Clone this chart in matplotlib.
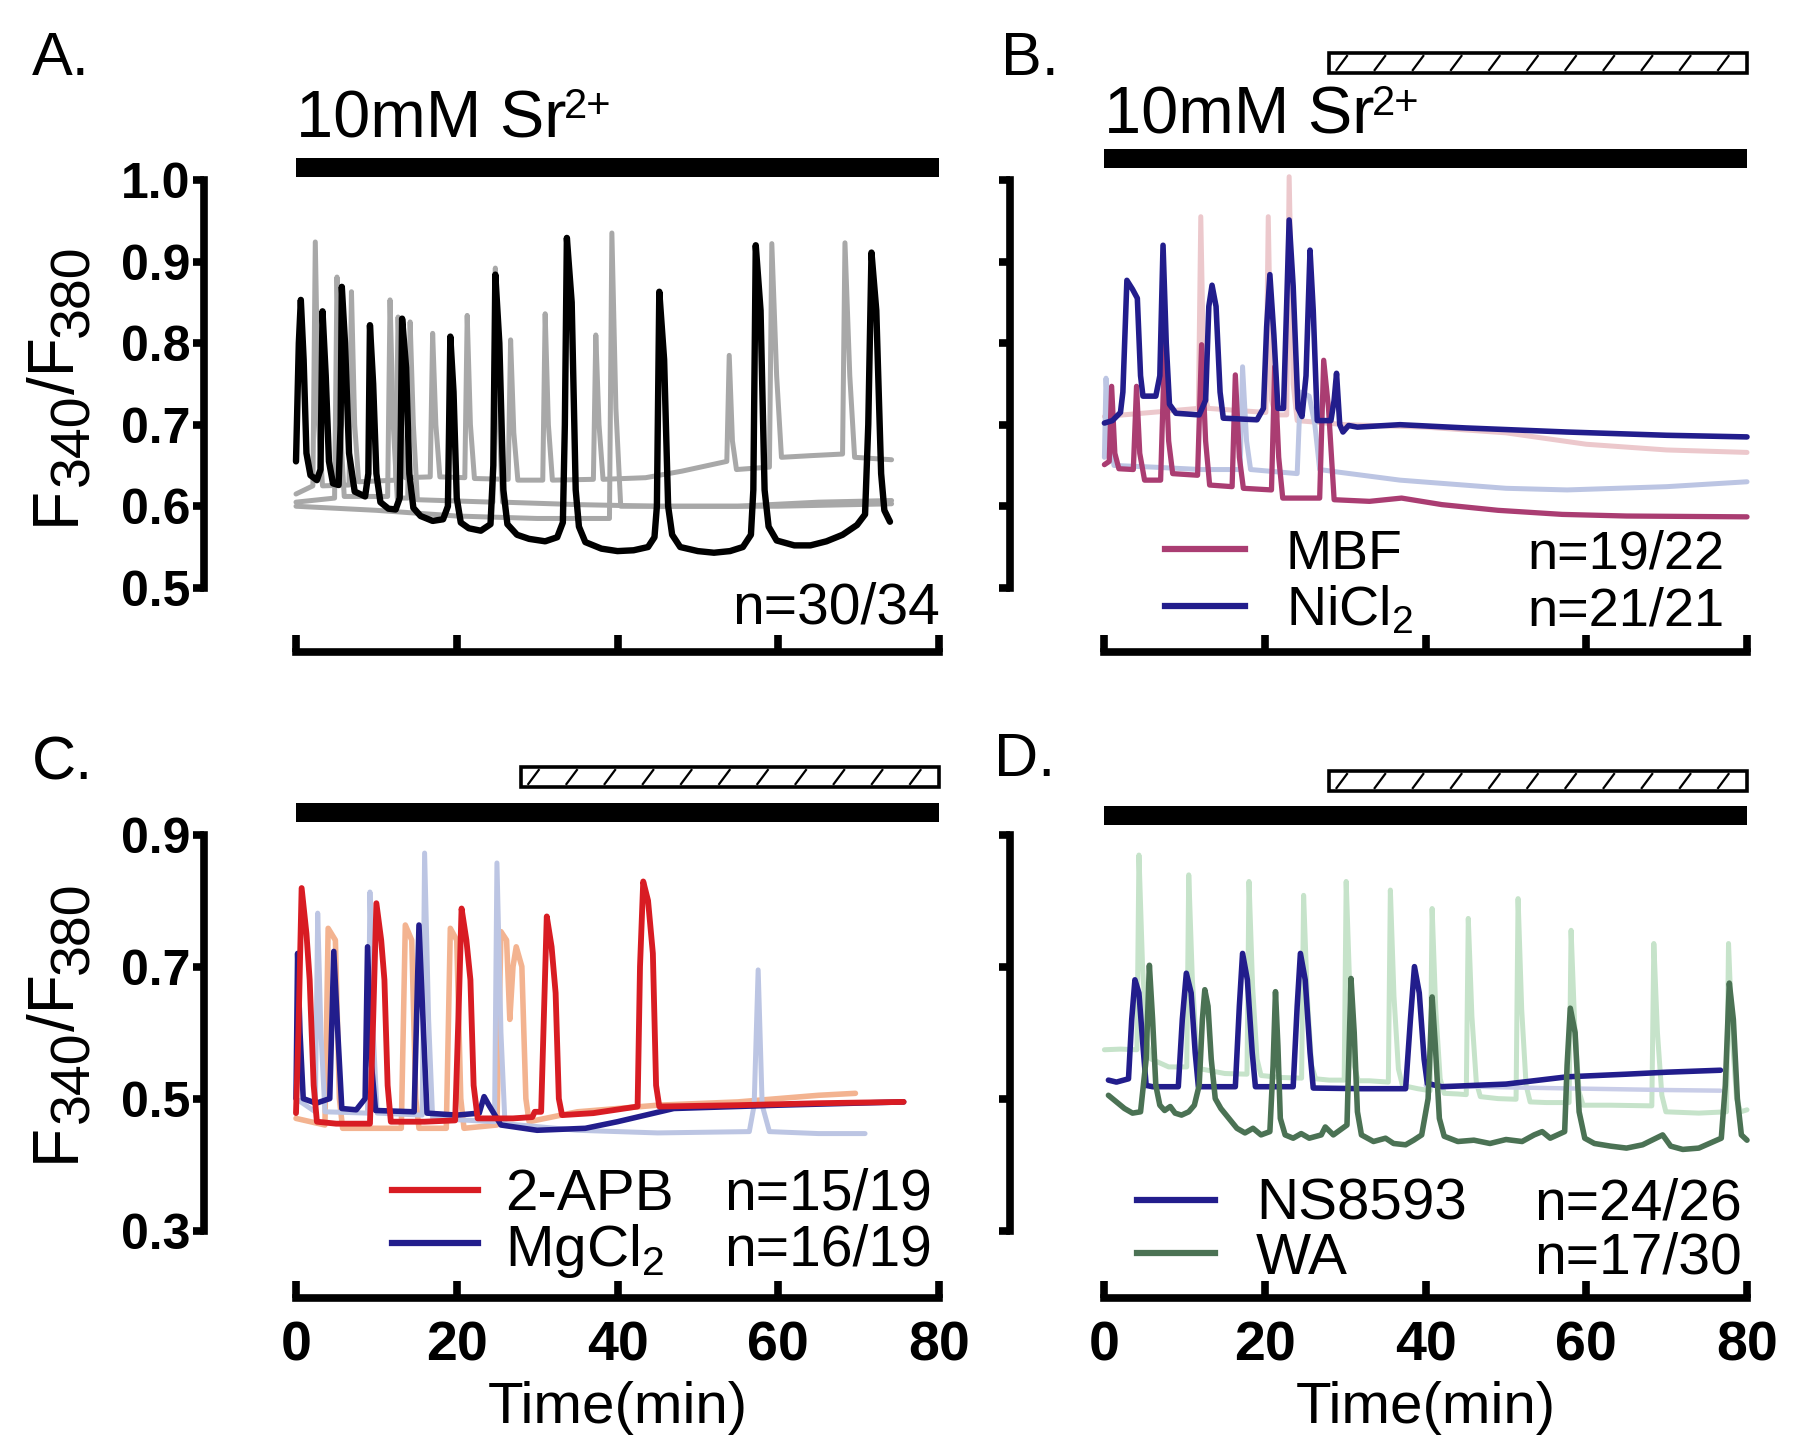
import matplotlib
matplotlib.use("Agg")
import matplotlib.pyplot as plt
from matplotlib.patches import Rectangle
from matplotlib.lines import Line2D
from matplotlib.transforms import blended_transform_factory

plt.rcParams['font.family'] = ['Liberation Sans', 'DejaVu Sans']
plt.rcParams['mathtext.fontset'] = 'custom'
plt.rcParams['mathtext.rm'] = 'Liberation Sans'
plt.rcParams['mathtext.it'] = 'Liberation Sans'
plt.rcParams['mathtext.bf'] = 'Liberation Sans:bold'

# ---------------- data (time in min, F340/F380 ratio) ----------------
A_black = [(0.0,0.655),(0.35,0.80),(0.6,0.853),(0.95,0.78),(1.3,0.665),(1.8,0.638),(2.6,0.632),
           (3.05,0.645),(3.3,0.839),(3.7,0.76),(4.1,0.655),(4.6,0.628),(5.3,0.626),(5.55,0.70),
           (5.7,0.869),(6.1,0.80),(6.6,0.665),(7.3,0.618),(8.6,0.612),(9.0,0.64),(9.2,0.822),
           (9.6,0.75),(10.0,0.64),(10.5,0.605),(11.5,0.597),(12.4,0.596),(12.9,0.61),(13.05,0.70),
           (13.2,0.830),(13.7,0.77),(14.1,0.64),(14.6,0.598),(15.5,0.588),(17.0,0.582),(18.3,0.584),
           (18.9,0.60),(19.05,0.70),(19.2,0.808),(19.6,0.74),(20.0,0.61),(20.5,0.580),(21.5,0.573),
           (23.0,0.570),(24.2,0.578),(24.55,0.65),(24.8,0.884),(25.3,0.80),(25.8,0.62),(26.3,0.578),
           (27.5,0.565),(29.0,0.560),(31.0,0.557),(32.5,0.562),(33.2,0.58),(33.45,0.70),(33.7,0.929),
           (34.3,0.85),(34.8,0.62),(35.2,0.575),(36.0,0.556),(38.0,0.548),(40.0,0.545),(42.0,0.546),
           (43.8,0.550),(44.6,0.562),(44.9,0.60),(45.2,0.863),(45.8,0.78),(46.3,0.60),(46.8,0.565),
           (47.8,0.550),(50.0,0.545),(52.0,0.543),(54.0,0.545),(55.6,0.550),(56.6,0.565),(56.9,0.62),
           (57.2,0.920),(57.8,0.84),(58.3,0.62),(58.8,0.575),(59.8,0.558),(62.0,0.552),(64.0,0.552),
           (66.0,0.557),(68.0,0.565),(69.8,0.577),(70.8,0.590),(71.2,0.70),(71.6,0.911),(72.2,0.84),
           (72.8,0.64),(73.2,0.595),(73.9,0.581)]
A_gray1 = [(0,0.615),(2.1,0.625),(2.4,0.924),(2.8,0.70),(3.3,0.625),(6.6,0.626),(6.9,0.863),(7.3,0.70),
           (7.8,0.630),(12.4,0.632),(12.7,0.832),(13.1,0.70),(13.6,0.635),(16.7,0.636),(17.0,0.812),
           (17.4,0.70),(17.9,0.636),(21.0,0.635),(21.3,0.834),(21.7,0.70),(22.2,0.634),(26.4,0.633),
           (26.7,0.804),(27.1,0.69),(27.6,0.632),(30.7,0.632),(31.0,0.836),(31.4,0.70),(31.9,0.632),
           (37.0,0.633),(37.3,0.810),(37.7,0.70),(38.2,0.633),(43.5,0.635),(48.0,0.643),(52.2,0.652),
           (53.6,0.655),(53.9,0.785),(54.3,0.68),(54.8,0.645),(58.9,0.648),(59.2,0.922),(59.8,0.76),
           (60.4,0.660),(64.0,0.662),(68.0,0.664),(68.3,0.923),(68.9,0.76),(69.5,0.660),(74.1,0.657)]
A_gray2 = [(0,0.605),(4.8,0.61),(5.1,0.881),(5.5,0.70),(6.0,0.612),(11.4,0.612),(11.7,0.853),(12.1,0.70),
           (12.6,0.610),(13.9,0.610),(14.2,0.826),(14.6,0.70),(15.1,0.608),(24.5,0.605),(24.8,0.892),
           (25.2,0.72),(25.7,0.605),(35,0.602),(45,0.600),(55,0.600),(65,0.605),(74.1,0.607)]
A_gray3 = [(0,0.600),(10,0.595),(20,0.588),(30,0.585),(39.0,0.585),(39.3,0.935),(39.8,0.72),(40.4,0.600),
           (50,0.600),(60,0.600),(74.1,0.603)]

B_nicl2 = [(0,0.702),(1.0,0.705),(2.0,0.715),(2.3,0.74),(2.8,0.877),(3.5,0.866),(4.1,0.855),(4.5,0.76),
           (4.8,0.735),(6.4,0.735),(6.9,0.76),(7.3,0.920),(7.7,0.80),(8.1,0.725),(8.9,0.714),(11.8,0.712),
           (12.6,0.73),(13.0,0.845),(13.4,0.871),(13.9,0.845),(14.4,0.74),(14.8,0.708),(19.0,0.706),
           (19.8,0.72),(20.2,0.82),(20.6,0.884),(21.1,0.81),(21.6,0.72),(22.3,0.72),(22.7,0.85),
           (23.0,0.951),(23.5,0.87),(24.1,0.72),(24.6,0.71),(25.1,0.76),(25.6,0.914),(26.0,0.84),
           (26.5,0.705),(28.2,0.705),(28.6,0.73),(28.9,0.763),(29.3,0.70),(29.7,0.691),(30.4,0.699),
           (31.5,0.697),(36.8,0.700),(45,0.696),(57.6,0.691),(70,0.687),(80,0.685)]
B_mbf = [(0,0.651),(0.6,0.655),(0.9,0.747),(1.3,0.665),(1.8,0.646),(3.6,0.645),(4.0,0.747),(4.4,0.665),
         (5.0,0.632),(7.0,0.632),(7.5,0.798),(8.0,0.68),(8.5,0.640),(11.6,0.638),(12.1,0.798),(12.6,0.68),
         (13.1,0.626),(15.9,0.624),(16.3,0.761),(16.8,0.66),(17.3,0.622),(20.8,0.620),(21.2,0.771),
         (21.7,0.66),(22.2,0.610),(26.8,0.610),(27.3,0.779),(27.9,0.72),(28.6,0.608),(33,0.606),
         (37,0.610),(42,0.602),(49,0.595),(57,0.590),(65,0.588),(80,0.587)]
B_ctrl_pink = [(0,0.710),(11.7,0.720),(12.0,0.955),(12.4,0.74),(12.9,0.720),(20.1,0.715),(20.4,0.955),
               (20.8,0.73),(21.3,0.712),(22.7,0.712),(23.0,1.004),(23.5,0.75),(24.0,0.705),(30,0.700),
               (40,0.697),(50,0.690),(60,0.676),(70,0.669),(80,0.666)]
B_ctrl_blue = [(0,0.660),(0.2,0.757),(0.6,0.68),(1.2,0.650),(6,0.648),(12,0.645),(16.9,0.645),(17.2,0.771),
               (17.7,0.68),(18.2,0.645),(24.0,0.640),(24.4,0.74),(25.5,0.735),(26.2,0.70),(26.8,0.645),
               (29,0.642),(36.8,0.632),(50,0.622),(57.6,0.620),(70,0.624),(80,0.630)]

C_2apb = [(0,0.478),(0.3,0.60),(0.7,0.819),(1.3,0.75),(1.7,0.68),(2.2,0.52),(2.6,0.465),(5,0.462),
          (9.2,0.462),(9.6,0.62),(10.0,0.796),(10.6,0.74),(11.0,0.68),(11.4,0.52),(11.8,0.465),(16,0.465),
          (19.8,0.467),(20.2,0.62),(20.6,0.788),(21.2,0.74),(21.7,0.68),(22.1,0.52),(22.6,0.470),(27,0.470),
          (29.4,0.472),(29.7,0.480),(30.5,0.480),(30.9,0.65),(31.2,0.776),(31.8,0.73),(32.3,0.66),
          (32.7,0.50),(33.1,0.475),(37,0.478),(42.5,0.488),(42.8,0.70),(43.2,0.829),(43.8,0.80),
          (44.4,0.72),(44.8,0.52),(45.2,0.488),(55,0.490),(65,0.493),(75.6,0.495)]
C_mgcl2 = [(0,0.500),(0.2,0.720),(0.5,0.60),(0.9,0.500),(2.5,0.493),(4.2,0.500),(4.7,0.723),(5.2,0.60),
           (5.7,0.485),(7.5,0.483),(8.6,0.500),(8.9,0.730),(9.4,0.55),(9.9,0.482),(14.7,0.480),
           (15.3,0.763),(15.8,0.62),(16.3,0.478),(20,0.475),(22.8,0.478),(23.4,0.503),(24.0,0.490),
           (25.5,0.460),(30,0.452),(36,0.455),(40,0.465),(47,0.485),(60,0.490),(75.6,0.495)]
C_ctrl_blue = [(0,0.500),(2.4,0.480),(2.7,0.781),(3.1,0.60),(3.6,0.480),(8.9,0.478),(9.2,0.813),(9.6,0.60),
               (10.1,0.478),(15.7,0.475),(16.0,0.872),(16.5,0.62),(17.0,0.470),(24.7,0.465),(25.0,0.857),
               (25.5,0.60),(26.0,0.462),(35,0.452),(45,0.448),(56.4,0.450),(57.0,0.49),(57.5,0.695),
               (58.0,0.49),(58.9,0.450),(65,0.447),(70.8,0.447)]
C_ctrl_peach = [(0,0.470),(3.6,0.460),(4.0,0.758),(4.9,0.740),(5.4,0.50),(5.8,0.455),(13.1,0.455),
                (13.6,0.763),(14.4,0.740),(14.9,0.50),(15.3,0.455),(18.7,0.455),(19.2,0.758),(20.0,0.740),
                (20.5,0.50),(20.9,0.455),(25.0,0.460),(25.5,0.753),(26.2,0.740),(26.6,0.62),(27.0,0.70),
                (27.4,0.730),(28.1,0.70),(28.6,0.50),(29,0.465),(35,0.480),(45,0.490),(55,0.495),
                (65,0.505),(69.6,0.508)]

D_ns8593 = [(0.5,0.528),(1.5,0.525),(3.0,0.530),(3.4,0.62),(3.8,0.680),(4.3,0.66),(4.8,0.58),(5.2,0.520),
            (6.0,0.518),(9.2,0.518),(9.7,0.62),(10.2,0.690),(10.8,0.66),(11.3,0.57),(11.7,0.518),
            (16.3,0.518),(16.8,0.64),(17.2,0.720),(17.8,0.68),(18.4,0.57),(18.8,0.518),(23.5,0.518),
            (24.0,0.64),(24.4,0.720),(25.0,0.68),(25.6,0.57),(26.0,0.516),(32,0.515),(37.5,0.515),
            (38.1,0.62),(38.6,0.700),(39.2,0.66),(39.8,0.56),(40.2,0.523),(42,0.518),(50,0.522),
            (57.6,0.533),(65,0.537),(70,0.540),(76.7,0.543)]
D_wa = [(0.5,0.505),(1.5,0.495),(2.5,0.485),(3.5,0.478),(4.5,0.480),(5.2,0.56),(5.6,0.702),(6.0,0.62),
        (6.4,0.52),(6.9,0.490),(7.5,0.482),(8.2,0.488),(8.8,0.478),(9.6,0.475),(10.5,0.480),(11.2,0.490),
        (11.8,0.52),(12.2,0.62),(12.5,0.665),(12.9,0.64),(13.3,0.56),(13.8,0.500),(14.5,0.485),
        (15.5,0.470),(16.5,0.455),(17.5,0.448),(18.5,0.455),(19.5,0.445),(20.6,0.450),(21.0,0.55),
        (21.3,0.662),(21.6,0.58),(21.9,0.470),(22.5,0.445),(23.5,0.440),(24.5,0.447),(25.5,0.440),
        (27.0,0.445),(27.5,0.457),(28.5,0.445),(30.2,0.460),(30.7,0.682),(31.1,0.60),(31.5,0.480),
        (32.0,0.445),(33.5,0.435),(35,0.440),(36,0.432),(37.5,0.430),(38.5,0.437),(39.5,0.445),
        (40.3,0.50),(40.8,0.654),(41.2,0.58),(41.7,0.470),(42.3,0.443),(44,0.435),(46,0.437),(48,0.432),
        (50,0.438),(52,0.435),(53.5,0.445),(54.5,0.450),(55.5,0.440),(57.3,0.450),(57.6,0.55),
        (58.0,0.637),(58.6,0.60),(59.1,0.480),(59.8,0.440),(61,0.432),(63,0.428),(65,0.425),(67,0.430),
        (69.5,0.445),(70.5,0.428),(72,0.423),(74,0.425),(76.8,0.440),(77.3,0.52),(77.8,0.675),
        (78.3,0.62),(78.8,0.50),(79.3,0.445),(80.0,0.437)]
D_ctrl_green = [(0,0.574),(2,0.575),(4.05,0.574),(4.3,0.869),(4.75,0.70),(5.3,0.585),(5.8,0.560),(8,0.548),
                (10.25,0.548),(10.5,0.839),(10.95,0.68),(11.5,0.57),(12.0,0.545),(15,0.538),(17.75,0.537),
                (18.0,0.829),(18.45,0.67),(19.0,0.56),(19.5,0.535),(22,0.532),(24.55,0.531),(24.8,0.808),
                (25.25,0.655),(25.8,0.55),(26.3,0.530),(28,0.528),(29.85,0.528),(30.1,0.829),(30.55,0.665),
                (31.1,0.55),(31.6,0.527),(33,0.527),(35.35,0.525),(35.6,0.816),(36.05,0.655),(36.6,0.545),
                (37.1,0.520),(39,0.515),(40.55,0.512),(40.8,0.788),(41.25,0.635),(41.8,0.53),(42.3,0.508),
                (44,0.507),(45.05,0.506),(45.3,0.773),(45.75,0.625),(46.3,0.525),(46.8,0.503),(49,0.500),
                (51.25,0.499),(51.5,0.803),(51.95,0.635),(52.5,0.52),(53.0,0.495),(55,0.494),(57.85,0.494),
                (58.1,0.755),(58.55,0.61),(59.1,0.51),(59.6,0.490),(63,0.490),(68.15,0.489),(68.4,0.735),
                (68.85,0.60),(69.4,0.505),(69.9,0.480),(74,0.478),(77.45,0.480),(77.7,0.735),(78.15,0.595),
                (78.7,0.50),(79.2,0.480),(80,0.483)]
D_ctrl_lav = [(40,0.520),(50,0.517),(60,0.515),(70,0.513),(76.7,0.512)]

A_yticks = [0.5, 0.6, 0.7, 0.8, 0.9, 1.0]
C_yticks = [0.3, 0.5, 0.7, 0.9]
x_ticks = [0, 20, 40, 60, 80]
legend_B = [("MBF", "n=19/22"), ("NiCl$_2$", "n=21/21")]
legend_C = [("2-APB", "n=15/19"), ("MgCl$_2$", "n=16/19")]
legend_D = [("NS8593", "n=24/26"), ("WA", "n=17/30")]

# ---------------- colours ----------------
GRAY = '#a8a8a8'
MBF_C = '#aa3d72'; NAVY = '#221d8c'; LPINK = '#ecc8cc'; LBLUE = '#bcc5e3'
RED = '#d81c23'; PEACH = '#f3b390'
GREEN = '#4b7254'; LGREEN = '#c6e3ca'; LLAV = '#c9cde8'

W, H = 1800, 1446
fig = plt.figure(figsize=(W / 100, H / 100), dpi=100)
REND = fig.canvas.get_renderer()

def fx(x): return x / W
def fy(y): return 1 - y / H

def text_width(s, size):
    t = fig.text(0, 0, s, fontsize=size)
    w = t.get_window_extent(REND).width
    t.remove()
    return w

def make_ax(x0, x1, ytop, ybot, vtop, vbot):
    ax = fig.add_axes([fx(x0), fy(ybot), (x1 - x0) / W, (ybot - ytop) / H])
    ax.set_xlim(0, 80)
    ax.set_ylim(vbot, vtop)
    ax.patch.set_visible(False)
    return ax

def style_ax(ax, yticks, left_off_pt, show_ylab, show_xlab):
    for s in ['top', 'right']:
        ax.spines[s].set_visible(False)
    for s in ['left', 'bottom']:
        ax.spines[s].set_linewidth(5.5)
        ax.spines[s].set_capstyle('projecting')
    ax.spines['left'].set_position(('outward', left_off_pt))
    ax.spines['left'].set_bounds(yticks[0], yticks[-1])
    ax.spines['bottom'].set_bounds(0, 80)
    ax.set_xticks(x_ticks)
    ax.set_yticks(yticks)
    ax.tick_params(axis='x', direction='in', length=12.5, width=5.5, pad=16,
                   labelsize=40, labelbottom=show_xlab)
    ax.tick_params(axis='y', direction='out', length=8, width=5.5, pad=2,
                   labelsize=36, labelleft=show_ylab)
    if show_ylab:
        ax.set_yticklabels([f"{v:.1f}" for v in yticks], fontweight='bold')
    if show_xlab:
        ax.set_xticklabels([str(v) for v in x_ticks], fontweight='bold')

def trace(ax, pts, color, lw, z=2):
    t, v = zip(*pts)
    ax.plot(t, v, color=color, lw=lw, solid_joinstyle='round', solid_capstyle='round',
            clip_on=False, zorder=z)

def bars(ax, black_y, hatch_y=None, hatch_start=28):
    tr = blended_transform_factory(ax.transData, fig.transFigure)
    h = 19
    ax.add_patch(Rectangle((0, fy(black_y + h / 2)), 80, h / H, transform=tr,
                           facecolor='black', edgecolor='black', lw=0, clip_on=False))
    if hatch_y is not None:
        hh = 20
        yb, yt = fy(hatch_y + hh / 2), fy(hatch_y - hh / 2)
        ax.add_patch(Rectangle((hatch_start, yb), 80 - hatch_start, hh / H, transform=tr,
                               facecolor='white', edgecolor='black', lw=2.6, clip_on=False))
        pad = 3 / H
        for i in range(11):
            xs = hatch_start + 0.9 + i * 4.75
            ax.add_line(Line2D([xs, xs + 1.3], [yb + pad, yt - pad], transform=tr,
                               color='black', lw=1.6, clip_on=False))

def legend_rows(rows, colors, line_x0, line_x1, line_ys, text_x, right_x, baselines, size=42):
    for (lab, n), c, ly, bl in zip(rows, colors, line_ys, baselines):
        fig.add_artist(Line2D([fx(line_x0), fx(line_x1)], [fy(ly), fy(ly)], color=c, lw=4.5,
                              transform=fig.transFigure))
        fig.text(fx(text_x), fy(bl), lab, fontsize=size, ha='left', va='baseline')
        fig.text(fx(right_x), fy(bl), n, fontsize=size - 1, ha='right', va='baseline')

def sr_label(x, baseline):
    main = "10mM Sr"
    fig.text(fx(x), fy(baseline), main, fontsize=48, ha='left', va='baseline')
    w = text_width(main, 48)
    fig.text(fx(x + w - 2), fy(baseline - 19), "2+", fontsize=30, ha='left', va='baseline')

def ylabel_rich(x_base, y_center):
    pieces = [('F', 46, 0), ('340', 40, 14), ('/F', 46, 0), ('380', 40, 14)]
    widths = [text_width(s, sz) for s, sz, sh in pieces]
    y = (H - y_center) - sum(widths) / 2
    for (s, sz, sh), w in zip(pieces, widths):
        fig.text((x_base + sh) / W, y / H, s, fontsize=sz, rotation=90,
                 rotation_mode='anchor', ha='left', va='baseline')
        y += w

# geometry (pixels)
XA0, XA1 = 296, 939
XB0, XB1 = 1104.4, 1747
TOP_Y1, TOP_Y0 = 180, 652          # value 1.0 at 180, x-axis at 652
BOT_Y1, BOT_Y0 = 834.6, 1298       # value 0.9 at 834.6, x-axis at 1298
top_vbot = 1.0 - (TOP_Y0 - TOP_Y1) / 815.6
bot_vbot = 0.9 - (BOT_Y0 - BOT_Y1) / 660.0

axA = make_ax(XA0, XA1, TOP_Y1, TOP_Y0, 1.0, top_vbot)
axB = make_ax(XB0, XB1, TOP_Y1, TOP_Y0, 1.0, top_vbot)
axC = make_ax(XA0, XA1, BOT_Y1, BOT_Y0, 0.9, bot_vbot)
axD = make_ax(XB0, XB1, BOT_Y1, BOT_Y0, 0.9, bot_vbot)

style_ax(axA, A_yticks, 66, True, False)
style_ax(axB, A_yticks, 68, False, False)
style_ax(axC, C_yticks, 66, True, True)
style_ax(axD, C_yticks, 68, False, True)

# traces
for g in (A_gray1, A_gray2, A_gray3):
    trace(axA, g, GRAY, 3.6)
trace(axA, A_black, 'black', 4.6, 3)

trace(axB, B_ctrl_pink, LPINK, 3.6)
trace(axB, B_ctrl_blue, LBLUE, 3.6)
trace(axB, B_mbf, MBF_C, 3.8, 3)
trace(axB, B_nicl2, NAVY, 4.0, 4)

trace(axC, C_ctrl_peach, PEACH, 4.0)
trace(axC, C_ctrl_blue, LBLUE, 3.6)
trace(axC, C_mgcl2, NAVY, 4.0, 3)
trace(axC, C_2apb, RED, 4.2, 4)

trace(axD, D_ctrl_green, LGREEN, 3.6)
trace(axD, D_ctrl_lav, LLAV, 3.2)
trace(axD, D_ns8593, NAVY, 4.0, 3)
trace(axD, D_wa, GREEN, 4.0, 4)

# application bars
bars(axA, 167)
bars(axB, 158, hatch_y=63)
bars(axC, 812, hatch_y=777)
bars(axD, 815, hatch_y=781)

# texts
fig.text(fx(32), fy(75), "A.", fontsize=44, ha='left', va='baseline')
fig.text(fx(1001), fy(75), "B.", fontsize=44, ha='left', va='baseline')
fig.text(fx(32), fy(780), "C.", fontsize=44, ha='left', va='baseline')
fig.text(fx(994), fy(776), "D.", fontsize=44, ha='left', va='baseline')
sr_label(296, 137)
sr_label(1104, 134)
fig.text(fx(940), fy(624), "n=30/34", fontsize=41, ha='right', va='baseline')

legend_rows(legend_B, [MBF_C, NAVY], 1165, 1245, [549, 606], 1286, 1725, [569, 625], size=40)
legend_rows(legend_C, [RED, NAVY], 392, 478, [1190, 1243], 505, 932, [1210, 1266])
legend_rows(legend_D, [NAVY, GREEN], 1137, 1215, [1200, 1253], 1256, 1742, [1220, 1274])

fig.text(fx((XA0 + XA1) / 2), fy(1423), "Time(min)", fontsize=42, ha='center', va='baseline')
fig.text(fx((XB0 + XB1) / 2), fy(1423), "Time(min)", fontsize=42, ha='center', va='baseline')

ylabel_rich(74, 385)
ylabel_rich(74, 1022)

fig.savefig("out.png", dpi=100)
